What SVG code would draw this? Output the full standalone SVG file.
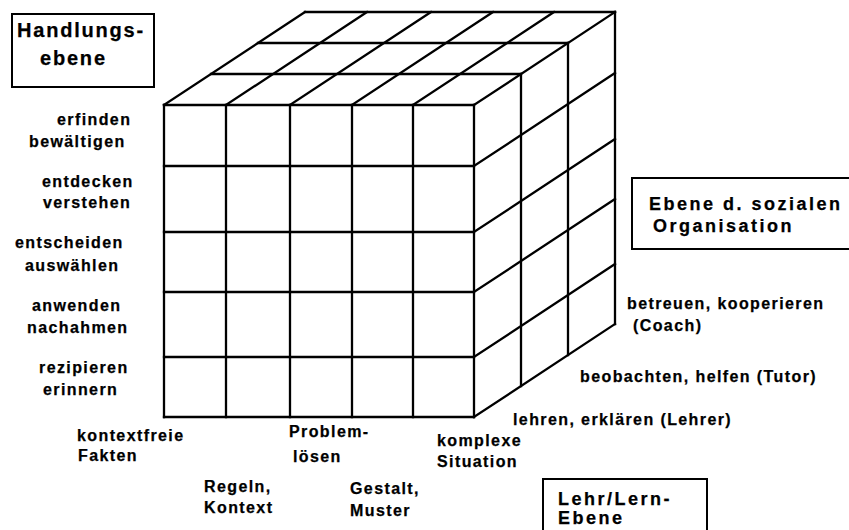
<svg xmlns="http://www.w3.org/2000/svg" width="849" height="530" viewBox="0 0 849 530">
<style>
.g{stroke:#000;stroke-width:2.3;fill:none;stroke-linecap:square}
.b{stroke:#000;stroke-width:2;fill:#fff}
text{font-family:"Liberation Sans",Arial,sans-serif;font-weight:bold;fill:#000;stroke:#000;stroke-width:0.25}
.s{font-size:16px;letter-spacing:1.4px}
.m{font-size:18px;letter-spacing:2.5px}
.l{font-size:20px;letter-spacing:1.8px}
</style>
<rect width="849" height="530" fill="#fff"/>
<g id="cube" class="g">
<g id="front">
<path d="M164,105H474M164,166H474M164,232H474M164,292H474M164,357H474M164,417H474"/>
<path d="M164,105V417M226,105V417M290,105V417M352,105V417M413,105V417M474,105V417"/>
</g>
<g id="top">
<path d="M211,74H521M258,43H568M305,12H615"/>
<path d="M164,105L305,12M226,105L367,12M290,105L431,12M352,105L493,12M413,105L554,12M474,105L615,12"/>
</g>
<g id="right">
<path d="M521,74V386M568,43V355M615,12V324"/>
<path d="M474,166L615,73M474,232L615,139M474,292L615,199M474,357L615,264M474,417L615,324"/>
</g>
</g>
<g id="box-handlung">
<rect class="b" x="12" y="14" width="142" height="73"/>
<text class="l" x="17" y="37">Handlungs-</text>
<text class="l" x="40" y="65">ebene</text>
</g>
<g id="box-sozial">
<rect class="b" x="632" y="178" width="222" height="71"/>
<text class="m" x="649" y="210">Ebene d. sozialen</text>
<text class="m" x="653" y="232">Organisation</text>
</g>
<g id="box-lehr">
<rect class="b" x="543" y="479" width="164" height="60"/>
<text class="m" x="558" y="505">Lehr/Lern-</text>
<text class="m" x="558" y="524">Ebene</text>
</g>
<g id="labels-handlung" class="s">
<text x="57" y="125">erfinden</text>
<text x="29" y="147">bewältigen</text>
<text x="42" y="187">entdecken</text>
<text x="43" y="208">verstehen</text>
<text x="15" y="248">entscheiden</text>
<text x="25" y="271">auswählen</text>
<text x="32" y="311">anwenden</text>
<text x="27" y="333">nachahmen</text>
<text x="39" y="373">rezipieren</text>
<text x="43" y="395">erinnern</text>
</g>
<g id="labels-lehr" class="s">
<text x="77" y="441">kontextfreie</text>
<text x="78" y="461">Fakten</text>
<text x="289" y="437">Problem-</text>
<text x="293" y="462">lösen</text>
<text x="437" y="446">komplexe</text>
<text x="437" y="467">Situation</text>
<text x="204" y="492">Regeln,</text>
<text x="204" y="513">Kontext</text>
<text x="350" y="494">Gestalt,</text>
<text x="350" y="516">Muster</text>
</g>
<g id="labels-sozial" class="s">
<text x="627" y="309">betreuen, kooperieren</text>
<text x="633" y="331">(Coach)</text>
<text x="580" y="382">beobachten, helfen (Tutor)</text>
<text x="513" y="425">lehren, erklären (Lehrer)</text>
</g>
</svg>
